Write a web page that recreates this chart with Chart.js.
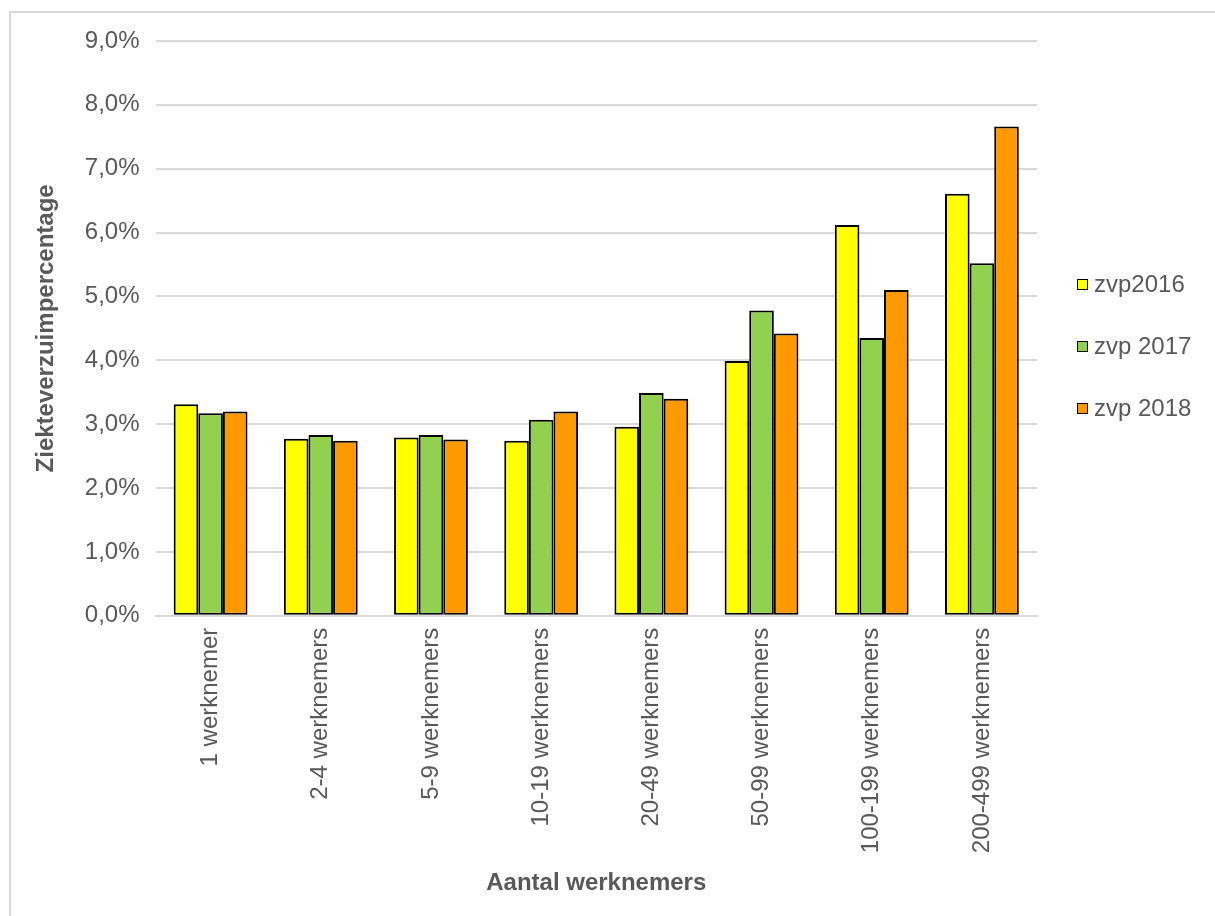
<!DOCTYPE html>
<html>
<head>
<meta charset="utf-8">
<script src="https://cdn.jsdelivr.net/npm/chart.js@4/dist/chart.umd.min.js"></script>
<style>
    body { margin: 0; background: #fff; font-family: "Liberation Sans", Arial, sans-serif; }
    #frame { position: absolute; left: 9px; top: 11px; width: 1220px; height: 920px; border-left: 2px solid #d9d9d9; border-top: 2px solid #d9d9d9; }
    #wrap { position: absolute; left: 0; top: 0; width: 1215px; height: 916px; }
    #legend { position: absolute; left: 1077px; top: 270px; }
    .item { display: flex; align-items: center; height: 28px; margin-bottom: 34px; color: #595959; font-size: 24px; }
    .box { width: 9px; height: 9px; border: 1px solid #000; margin-right: 6px; }
</style>
</head>
<body>
<div id="frame"></div>
<div id="wrap"><canvas id="zvpChart" width="1215" height="916"></canvas></div>
<div id="legend"></div>
<script>
const categories = ['1 werknemer', '2-4 werknemers', '5-9 werknemers', '10-19 werknemers',
    '20-49 werknemers', '50-99 werknemers', '100-199 werknemers', '200-499 werknemers'];
const zvp2016 = [3.31, 2.77, 2.79, 2.74, 2.96, 3.99, 6.12, 6.61];
const zvp2017 = [3.17, 2.83, 2.83, 3.07, 3.49, 4.78, 4.35, 5.52];
const zvp2018 = [3.20, 2.74, 2.76, 3.20, 3.40, 4.42, 5.10, 7.66];
const seriesNames = ['zvp2016', 'zvp 2017', 'zvp 2018'];
const seriesColors = ['#ffff00', '#92d050', '#ff9900'];

document.addEventListener('DOMContentLoaded', function() {
    const textGrey = '#595959';
    const fontFamily = '"Liberation Sans", Arial, sans-serif';
    const values = [zvp2016, zvp2017, zvp2018];

    const datasets = seriesNames.map((name, i) => ({
        label: name,
        data: values[i],
        backgroundColor: seriesColors[i],
        borderColor: '#000000',
        borderWidth: 2,
        borderSkipped: false,
        categoryPercentage: 0.67,
        barPercentage: 1.0
    }));

    const ctx = document.getElementById('zvpChart').getContext('2d');
    const chart = new Chart(ctx, {
        type: 'bar',
        data: { labels: categories, datasets: datasets },
        options: {
            responsive: false,
            animation: false,
            layout: {
                padding: { left: 28, right: 178, top: 41, bottom: 14 }
            },
            plugins: {
                legend: { display: false },
                tooltip: { enabled: false }
            },
            scales: {
                y: {
                    min: 0,
                    max: 9,
                    border: { display: false },
                    grid: { color: '#d9d9d9', lineWidth: 2, drawTicks: false },
                    ticks: {
                        stepSize: 1,
                        padding: 16,
                        color: textGrey,
                        font: { family: fontFamily, size: 24 },
                        callback: function(value) {
                            return value.toFixed(1).replace('.', ',') + '%';
                        }
                    },
                    title: {
                        display: true,
                        text: 'Ziekteverzuimpercentage',
                        color: textGrey,
                        font: { family: fontFamily, size: 24, weight: 'bold' },
                        padding: { bottom: 8 }
                    }
                },
                x: {
                    border: { color: '#d9d9d9', width: 2 },
                    grid: { display: false },
                    ticks: {
                        minRotation: 90,
                        maxRotation: 90,
                        padding: 4,
                        color: textGrey,
                        font: { family: fontFamily, size: 24 }
                    },
                    title: {
                        display: true,
                        text: 'Aantal werknemers',
                        color: textGrey,
                        font: { family: fontFamily, size: 24, weight: 'bold' },
                        padding: { top: 12 }
                    }
                }
            }
        }
    });

    // legend next to the plot, built from the datasets
    const legendEl = document.getElementById('legend');
    chart.data.datasets.forEach(ds => {
        const item = document.createElement('div');
        item.className = 'item';
        const box = document.createElement('span');
        box.className = 'box';
        box.style.background = ds.backgroundColor;
        item.appendChild(box);
        item.appendChild(document.createTextNode(ds.label));
        legendEl.appendChild(item);
    });
});
</script>
</body>
</html>
